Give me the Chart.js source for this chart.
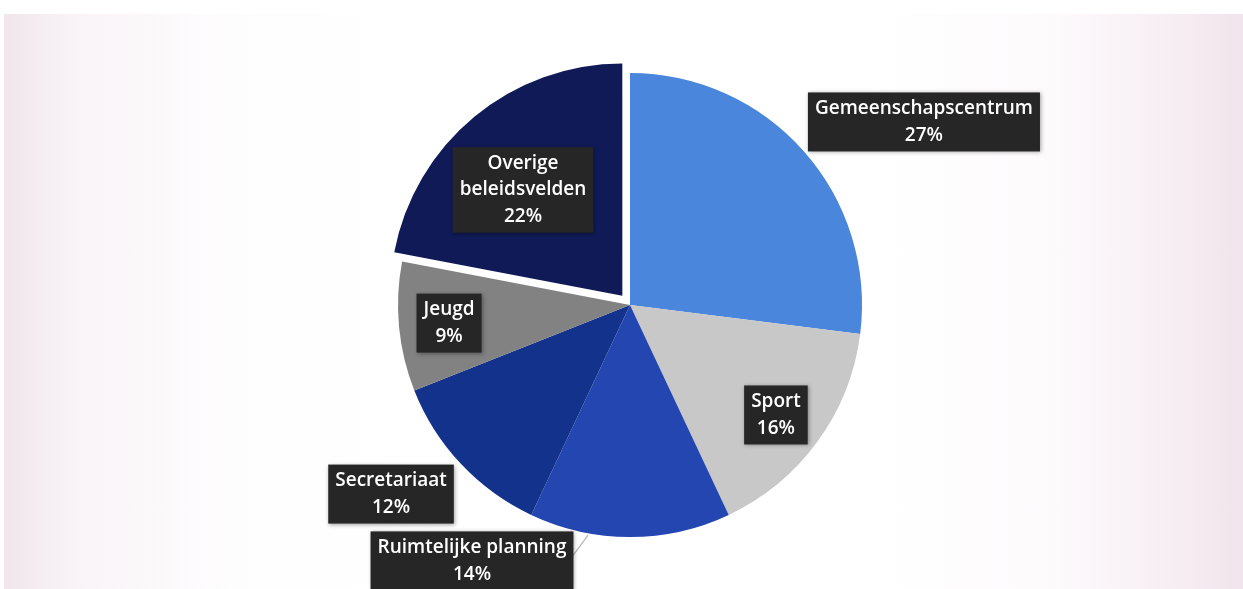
<!DOCTYPE html>
<html>
<head>
<meta charset="utf-8">
<script src="https://cdn.jsdelivr.net/npm/chart.js@4/dist/chart.umd.min.js"></script>
<style>
    html, body { margin: 0; padding: 0; background: #fff; }
    #wrap {
        position: absolute; left: 4px; top: 14px; width: 1239px; height: 575px;
        background: linear-gradient(to right, #f0e6eb 0%, #f9f4f7 6%, #fefdfe 18%, #fff 35%, #fff 70%, #fdfafc 85%, #f5ebf1 96%, #f1e4ec 100%);
    }
    #box { position: absolute; left: 0; top: 0; width: 1243px; height: 589px; }
</style>
</head>
<body>
<div id="wrap"></div>
<div id="box"><canvas id="pieChart"></canvas></div>
<script>
// data
var categories = ['Gemeenschapscentrum', 'Sport', 'Ruimtelijke planning', 'Secretariaat', 'Jeugd', 'Overige beleidsvelden'];
var shares = [27, 16, 14, 12, 9, 22];
var sliceColors = ['#4a86dc', '#c8c8c8', '#2446b0', '#13328c', '#828282', '#101a56'];

// label lines and where the dark boxes sit (relative to pie center, in radii)
var labelLines = [
    ['Gemeenschapscentrum'],
    ['Sport'],
    ['Ruimtelijke planning'],
    ['Secretariaat'],
    ['Jeugd'],
    ['Overige', 'beleidsvelden']
];
var labelSpots = [
    [1.267, -0.789],
    [0.629, 0.474],
    [-0.681, 1.103],
    [-1.030, 0.815],
    [-0.780, 0.078],
    [-0.461, -0.496]
];

var boxLabels = {
    id: 'boxLabels',
    afterDatasetsDraw: function(chart) {
        var ctx = chart.ctx;
        var arcs = chart.getDatasetMeta(0).data;
        var lineH = 26.5;
        ctx.save();
        ctx.font = '600 19px "Open Sans"';
        ctx.textAlign = 'center';
        ctx.textBaseline = 'middle';

        // leader line for Ruimtelijke planning
        var a2 = arcs[2];
        var mid = (a2.startAngle + a2.endAngle) / 2 + 0.18;
        ctx.strokeStyle = '#b4b4b4';
        ctx.lineWidth = 1.2;
        ctx.beginPath();
        ctx.moveTo(a2.x + labelSpots[2][0] * a2.outerRadius + 100, a2.y + labelSpots[2][1] * a2.outerRadius - 4);
        ctx.lineTo(a2.x + Math.cos(mid) * (a2.outerRadius + 2), a2.y + Math.sin(mid) * (a2.outerRadius + 2));
        ctx.stroke();

        arcs.forEach(function(arc, i) {
            var R = arc.outerRadius;
            var cx = arc.x + labelSpots[i][0] * R;
            var cy = arc.y + labelSpots[i][1] * R;
            var lines = labelLines[i].concat([shares[i] + '%']);
            var w = 0;
            lines.forEach(function(t) { w = Math.max(w, ctx.measureText(t).width); });
            w += 14;
            var h = lines.length * lineH + 6;
            ctx.shadowColor = 'rgba(0,0,0,0.35)';
            ctx.shadowBlur = 4;
            ctx.shadowOffsetX = 1;
            ctx.shadowOffsetY = 1;
            ctx.fillStyle = '#262626';
            ctx.fillRect(cx - w / 2, cy - h / 2, w, h);
            ctx.shadowColor = 'transparent';
            ctx.fillStyle = '#ffffff';
            lines.forEach(function(t, k) {
                ctx.fillText(t, cx, cy - h / 2 + 3 + lineH * (k + 0.5));
            });
        });
        ctx.restore();
    }
};

var chartElement = document.getElementById('pieChart').getContext('2d');
var pieChart = new Chart(chartElement, {
    type: 'pie',
    data: {
        labels: categories,
        datasets: [{
            data: shares,
            backgroundColor: sliceColors,
            borderWidth: 0,
            offset: [0, 0, 0, 0, 0, 48], // arc draws offset/4 -> ~12px
            radius: 232
        }]
    },
    options: {
        responsive: true,
        maintainAspectRatio: false,
        animation: false,
        layout: {
            padding: { left: 17, top: 21, right: 0, bottom: 0 }
        },
        plugins: {
            legend: { display: false },
            tooltip: { enabled: false }
        }
    },
    plugins: [boxLabels]
});
</script>
</body>
</html>
